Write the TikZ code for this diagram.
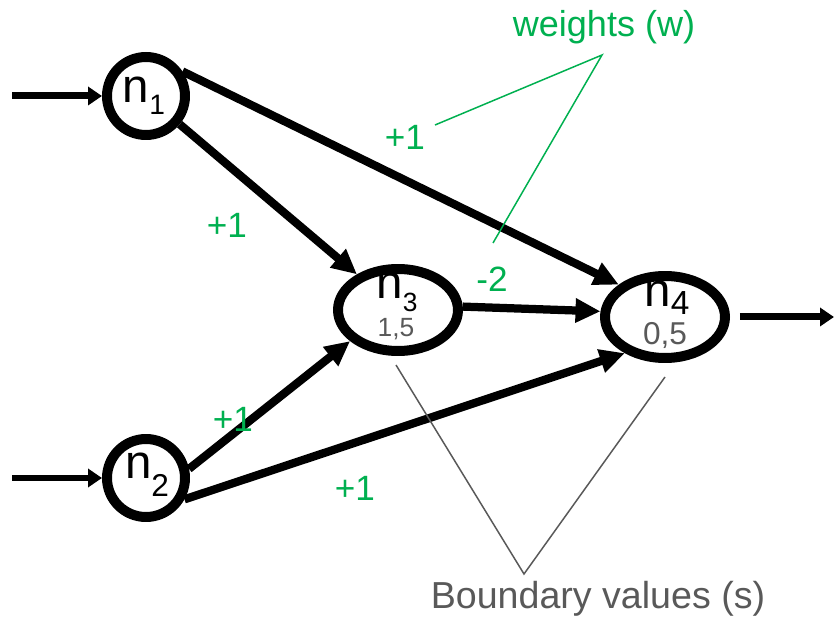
\documentclass[tikz,border=0pt]{standalone}
\usepackage{fontspec}
\setmainfont{Liberation Sans}
\usetikzlibrary{arrows.meta,shapes.geometric}
\definecolor{wgreen}{RGB}{0,176,80}
\definecolor{bgray}{RGB}{89,89,89}
\tikzset{
  unit/.style={draw=black, line width=0.2cm, inner sep=0pt},
  syn/.style={line width=0.165cm, -{Triangle[length=0.5cm,width=0.46cm]}},
  io/.style={line width=0.14cm, -{Triangle[length=0.28cm,width=0.36cm]}},
  wlabel/.style={text=wgreen, font=\fontsize{20}{22}\selectfont},
  wline/.style={draw=wgreen, line width=0.85pt},
  bline/.style={draw=bgray, line width=0.85pt},
  ntext/.style={anchor=base, inner sep=0pt, font=\fontsize{27}{27}\selectfont},
}
\newcommand{\nsub}[3]{n\raisebox{-#1pt}{\fontsize{#2}{#2}\selectfont #3}}
\begin{document}
\begin{tikzpicture}[x=0.02cm,y=-0.02cm]
\useasboundingbox (0,0) rectangle (836,618);
%units
\node[unit, circle, minimum size=1.56cm] (n1) at (146,96) {};
\node[unit, circle, minimum size=1.56cm] (n2) at (146,478) {};
\node[unit, ellipse, minimum width=2.4cm, minimum height=1.64cm] (n3) at (398,310) {};
\node[unit, ellipse, minimum width=2.4cm, minimum height=1.64cm] (n4) at (665,317) {};
%names and boundary values
\node[ntext] (n1t) at (144,103) {\nsub{6.8}{16}{1}};
\node[ntext] (n2t) at (147,479) {\nsub{10}{18}{2}};
\node[ntext] (n3t) at (397,299) {\nsub{7}{15}{3}};
\node[ntext] (n4t) at (667,307) {\nsub{4.5}{19}{4}};
\node[ntext, text=bgray, font=\fontsize{15}{15}\selectfont] (s3t) at (396,337) {1,5};
\node[ntext, text=bgray, font=\fontsize{18}{18}\selectfont] (s4t) at (665,345) {0,5};
%inputs and output
\coordinate (in1) at (12,96);
\coordinate (in2) at (12,478);
\coordinate (out) at (834,317);
\draw[io] (in1) -- (n1.west);
\draw[io] (in2) -- (n2.west);
\draw[io, shorten <=0.2cm] (n4.east) -- (out);
%synapses
\draw[syn] (n1.34) -- (n4.145);
\draw[syn] (n1.-40) -- (n3.139);
\draw[syn] (n2.12) -- (n3.213);
\draw[syn] (n2.-29) -- (n4.222);
\draw[syn] (n3.3) -- (n4.175);
%weights
\node[wlabel] (w14) at (405,137) {+1};
\node[wlabel] (w13) at (227,225) {+1};
\node[wlabel] (w23) at (233,419) {+1};
\node[wlabel] (w24) at (355,488) {+1};
\node[wlabel] (w34) at (492,279) {-2};
\node[wlabel, font=\fontsize{20.5}{22}\selectfont] (wt) at (604,27) {weights (w)};
\coordinate (wtip) at (602,55);
\coordinate (wa) at (435,125);
\coordinate (wb) at (493,243);
\draw[wline] (wa) -- (wtip) -- (wb);
%boundary values
\node[text=bgray, anchor=base, inner sep=0pt, font=\fontsize{21.4}{23}\selectfont] (bv) at (598,608) {Boundary values (s)};
\coordinate (bvtip) at (524,574);
\coordinate (s3) at (396,365);
\coordinate (s4) at (665,377);
\draw[bline] (s3) -- (bvtip) -- (s4);
\end{tikzpicture}
\end{document}
